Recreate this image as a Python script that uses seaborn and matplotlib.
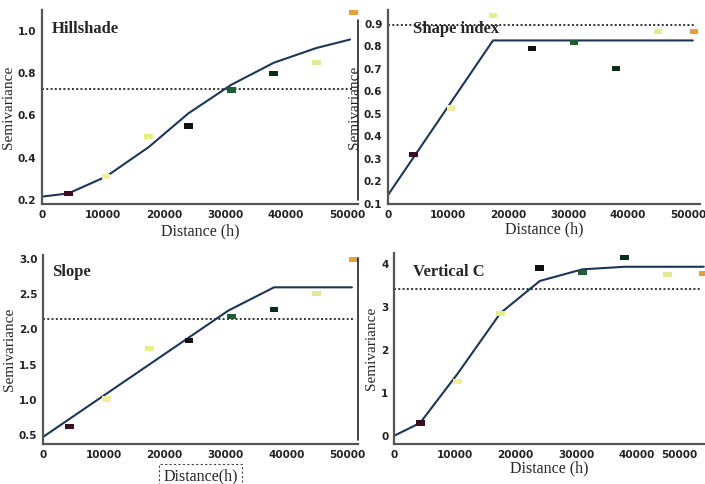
import numpy as np
import matplotlib.pyplot as plt
import seaborn as sns
import pandas as pd
from matplotlib.lines import Line2D

# lag distances of the experimental semivariogram
lags = [4300, 10500, 17500, 24000, 31000, 38000, 45000, 51000]
lag_colors = ['#3b0f22', '#f3eea6', '#e6ee86', '#111111', '#1d5e36', '#0b2e18', '#e2e896', '#e0a23e']

# Hillshade
hs_points = [0.23, 0.31, 0.50, 0.55, 0.72, 0.80, 0.85, 1.09]
hs_model_x = [0, 4300, 10500, 17500, 24000, 31000, 38000, 45000, 50500]
hs_model_y = [0.215, 0.23, 0.31, 0.45, 0.61, 0.745, 0.85, 0.92, 0.96]
hs_sill = 0.725

# Shape index
si_points = [0.32, 0.525, 0.935, 0.79, 0.815, 0.70, 0.865, 0.865]
si_model_x = [0, 17500, 50800]
si_model_y = [0.14, 0.825, 0.825]
si_sill = 0.895

# Slope
sl_points = [0.62, 1.01, 1.73, 1.84, 2.18, 2.28, 2.51, 3.00]
sl_model_x = [0, 30500, 38000, 50800]
sl_model_y = [0.47, 2.27, 2.60, 2.60]
sl_sill = 2.15

# Vertical C
vc_points = [0.30, 1.27, 2.85, 3.90, 3.80, 4.15, 3.75, 3.77]
vc_model_x = [0, 4300, 10500, 17500, 24000, 31000, 38000, 51000]
vc_model_y = [0.0, 0.30, 1.45, 2.85, 3.60, 3.87, 3.93, 3.93]
vc_sill = 3.42

sns.set_style('white')
plt.rcParams['font.family'] = ['DejaVu Sans']

fig = plt.figure(figsize=(7.05, 4.84), dpi=100)

W, H = 705, 484
def box(l, r, t, b):
    return [l / W, 1 - b / H, (r - l) / W, (b - t) / H]

panels = [
    dict(name='Hillshade', pos=box(42, 358, 10, 204), pts=hs_points, mx=hs_model_x, my=hs_model_y,
         sill=hs_sill, xlim=(0, 51800), ylim=(0.18, 1.1), yticks=[0.2, 0.4, 0.6, 0.8, 1.0], yfmt='{:.1f}',
         title_xy=(0.03, 0.90), xlabel='Distance (h)', xl_y=-0.14),
    dict(name='Shape index', pos=box(388, 700, 10, 204), pts=si_points, mx=si_model_x, my=si_model_y,
         sill=si_sill, xlim=(0, 52000), ylim=(0.1, 0.96), yticks=[0.1, 0.2, 0.3, 0.4, 0.5, 0.6, 0.7, 0.8, 0.9],
         yfmt='{:.1f}', title_xy=(0.08, 0.90), xlabel='Distance (h)', xl_y=-0.13),
    dict(name='Slope', pos=box(43, 358, 255, 444), pts=sl_points, mx=sl_model_x, my=sl_model_y,
         sill=sl_sill, xlim=(0, 51800), ylim=(0.37, 3.06), yticks=[0.5, 1.0, 1.5, 2.0, 2.5, 3.0], yfmt='{:.1f}',
         title_xy=(0.03, 0.91), xlabel='Distance(h)', xl_y=-0.17),
    dict(name='Vertical C', pos=box(394, 705, 253, 444), pts=vc_points, mx=vc_model_x, my=vc_model_y,
         sill=vc_sill, xlim=(0, 51200), ylim=(-0.19, 4.25), yticks=[0, 1, 2, 3, 4], yfmt='{:.0f}',
         title_xy=(0.06, 0.9), xlabel='Distance (h)', xl_y=-0.13),
]

rect = [(-1.0, -0.6), (1.0, -0.6), (1.0, 0.6), (-1.0, 0.6), (-1.0, -0.6)]

for p in panels:
    ax = fig.add_axes(p['pos'])
    pts = pd.DataFrame({'lag': lags, 'gamma': p['pts']})
    model = pd.DataFrame({'lag': p['mx'], 'gamma': p['my']})
    ax.axhline(p['sill'], xmin=0.0, xmax=0.985, color='#333333', ls=(0, (1, 1.2)), lw=1.4, zorder=1)
    sns.lineplot(data=model, x='lag', y='gamma', ax=ax, color='#1e3656', lw=1.5, zorder=2)
    sns.scatterplot(data=pts, x='lag', y='gamma', ax=ax, hue='lag', palette=lag_colors,
                    marker=rect, s=40, linewidth=0, legend=False, zorder=3)
    ax.set_xlim(*p['xlim'])
    ax.set_ylim(*p['ylim'])
    ax.set_xticks([0, 10000, 20000, 30000, 40000, 50000])
    ax.set_xticklabels(['0', '10000', '20000', '30000', '40000', '50000'])
    ax.set_yticks(p['yticks'])
    ax.set_yticklabels([p['yfmt'].format(v) for v in p['yticks']])
    ax.tick_params(axis='both', labelsize=7.5, length=2, width=0.8, pad=2, colors='#222222')
    for lab in ax.get_xticklabels() + ax.get_yticklabels():
        lab.set_fontweight('bold')
    if p['name'] == 'Vertical C':
        ax.get_xticklabels()[-1].set_horizontalalignment('right')
    for s in ['top', 'right']:
        ax.spines[s].set_visible(False)
    for s in ['left', 'bottom']:
        ax.spines[s].set_color('#555555')
        ax.spines[s].set_linewidth(1.6)
    ax.set_ylabel('Semivariance', family='Liberation Serif', fontsize=11, labelpad=2)
    ax.set_xlabel('')
    if p['name'] == 'Slope':
        ax.text(0.5, p['xl_y'], p['xlabel'], transform=ax.transAxes, ha='center', va='center',
                family='Liberation Serif', fontsize=11.5,
                bbox=dict(boxstyle='square,pad=0.25', fc='white', ec='#444444', ls=(0, (2, 2)), lw=0.8))
    else:
        ax.text(0.5, p['xl_y'], p['xlabel'], transform=ax.transAxes, ha='center', va='center',
                family='Liberation Serif', fontsize=11.5)
    ax.text(p['title_xy'][0], p['title_xy'][1], p['name'], transform=ax.transAxes, ha='left', va='center',
            family='Liberation Serif', fontweight='bold', fontsize=12)

# frame lines left over between the panels
fig.add_artist(Line2D([358 / W, 358 / W], [1 - 20 / H, 1 - 200 / H], color='#222222', lw=1.2))
fig.add_artist(Line2D([358 / W, 358 / W], [1 - 258 / H, 1 - 440 / H], color='#222222', lw=1.2))

fig.savefig('out.png', dpi=100)
